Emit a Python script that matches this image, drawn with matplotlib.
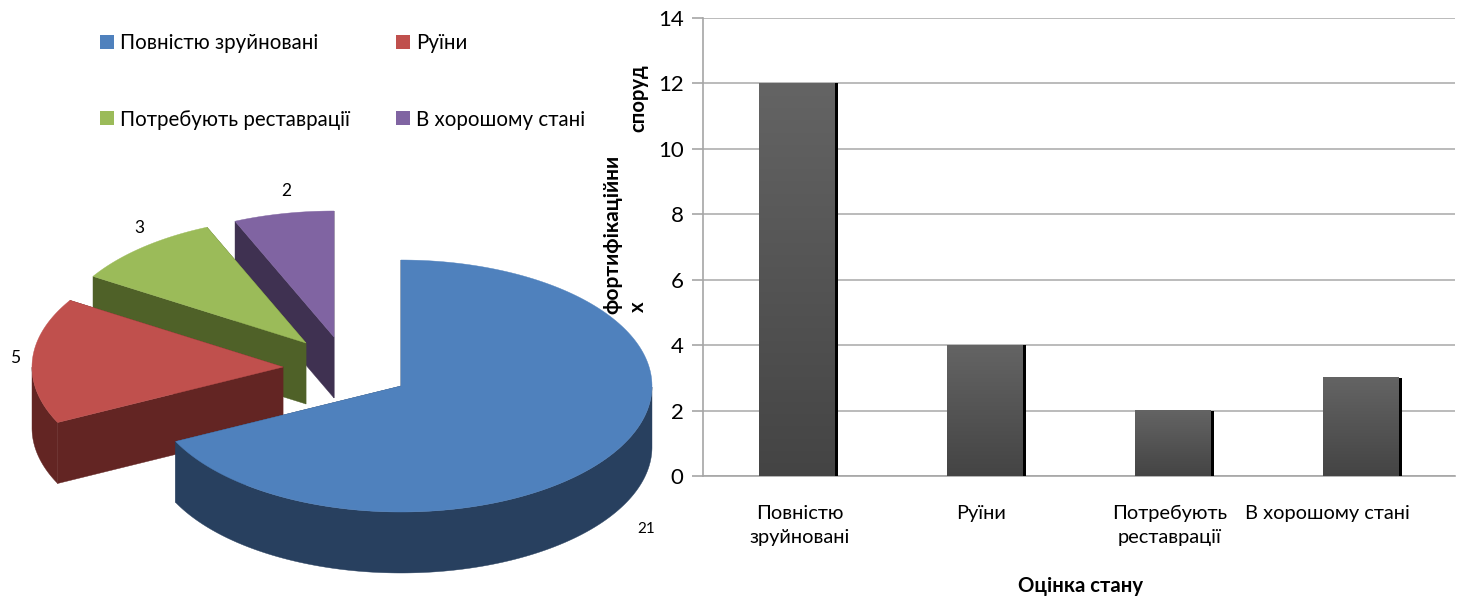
import numpy as np
import matplotlib
matplotlib.use("Agg")
import matplotlib.pyplot as plt
from matplotlib.patches import Polygon, Patch
from matplotlib.colors import LinearSegmentedColormap
from matplotlib.transforms import ScaledTranslation

plt.rcParams['font.family'] = ['Lato', 'Open Sans', 'DejaVu Sans']

# data
pie_labels = ['Повністю зруйновані', 'Руїни', 'Потребують реставрації', 'В хорошому стані']
pie_values = [21, 5, 3, 2]
bar_labels = ['Повністю\nзруйновані', 'Руїни', 'Потребують\nреставрації', 'В хорошому стані']
bar_values = [12, 4, 2, 3]
y_ticks = [0, 2, 4, 6, 8, 10, 12, 14]
x_title = 'Оцінка стану'

# style
W, H = 1463, 598
top_cols = ['#4F81BD', '#C0504D', '#9BBB59', '#8064A2']
side_cols = ['#28405F', '#632523', '#4F6128', '#3F3151']
apex = [(401, 386), (283, 367), (306, 343), (334, 337)]
RX, RY, DEPTH = 251, 126, 61
label_pos = [(646, 529), (15, 358), (139, 228), (286, 191)]
label_sizes = [11, 12.5, 12.5, 12.5]
tick_shift_px = [3, -4, -3, -34]

fig = plt.figure(figsize=(W / 100, H / 100), dpi=100)
pax = fig.add_axes([0, 0, 1, 1])
pax.set_xlim(0, W)
pax.set_ylim(H, 0)
pax.axis('off')


def ell(c, deg):
    t = np.radians(np.asarray(deg, float))
    return np.column_stack([c[0] + RX * np.cos(t), c[1] - RY * np.sin(t)])


total = sum(pie_values)
start = 90.0
draw = []
for i, v in enumerate(pie_values):
    end = start - 360.0 * v / total
    draw.append((i, start, end))
    start = end

for i, a0, a1 in reversed(draw):
    c = apex[i]
    order = 2 + (3 - i) * 2
    arc = ell(c, np.linspace(a0, a1, 200))
    # cut faces
    for a in (a0, a1):
        p = ell(c, [a])[0]
        quad = np.array([c, p, p + [0, DEPTH], np.array(c) + [0, DEPTH]])
        pax.add_patch(Polygon(quad, closed=True, fc=side_cols[i], ec=side_cols[i], lw=0.3, zorder=order))
    # outer rim, lower half of the ellipse only
    deg = np.linspace(a0, a1, 400)
    mask = np.sin(np.radians(deg)) < 0
    if mask.any():
        rim = ell(c, deg[mask])
        quad = np.vstack([rim, rim[::-1] + [0, DEPTH]])
        pax.add_patch(Polygon(quad, closed=True, fc=side_cols[i], ec=side_cols[i], lw=0.3, zorder=order))
    pax.add_patch(Polygon(np.vstack([[c], arc]), closed=True, fc=top_cols[i], ec=top_cols[i], lw=0.3, zorder=order + 1))

for v, (x, y), fs in zip(pie_values, label_pos, label_sizes):
    pax.text(x, y, str(v), ha='center', va='center', fontsize=fs, color='black', zorder=20)

handles = [Patch(fc=c, ec='none') for c in top_cols]
order_idx = [0, 2, 1, 3]
pax.legend([handles[i] for i in order_idx], [pie_labels[i] for i in order_idx],
           ncol=2, frameon=False, fontsize=14.8, loc='upper left',
           bbox_to_anchor=(100 / W, 1 - 33 / H), bbox_transform=fig.transFigure,
           handlelength=0.68, handleheight=0.68, handletextpad=0.3,
           labelspacing=2.75, columnspacing=2.25, borderpad=0, borderaxespad=0)

# bars
ax = fig.add_axes([703 / W, (H - 476) / H, 752 / W, 458 / H])
ax.patch.set_alpha(0)
x = np.arange(len(bar_values))
bw = 76 / 188
px = 1 / 188
cmap = LinearSegmentedColormap.from_list('g', ['#646464', '#444444'])
grad = np.linspace(0, 1, 256).reshape(-1, 1)
ax.bar(x + 1.5 * px, bar_values, width=bw + 3 * px, color='black', zorder=3)
for xi, v in zip(x, bar_values):
    ax.imshow(grad, cmap=cmap, aspect='auto', zorder=4, origin='upper',
              extent=(xi - bw / 2, xi + bw / 2, 0, v))
ax.set_xlim(-0.5, 3.5)
ax.set_ylim(0, 14)
ax.set_yticks(y_ticks)
ax.set_xticks(x)
ax.set_xticklabels(bar_labels, fontsize=14.4, linespacing=1.5)
ax.tick_params(axis='x', length=0, pad=21)
ax.tick_params(axis='y', length=8, width=1.2, color='#a6a6a6', labelsize=16, pad=6)
for lab, dx in zip(ax.get_xticklabels(), tick_shift_px):
    lab.set_transform(lab.get_transform() + ScaledTranslation(dx / 100, 0, fig.dpi_scale_trans))
ax.grid(axis='y', color='#b5b5b5', lw=1.3, zorder=1)
ax.set_axisbelow(True)
for s in ('top', 'right'):
    ax.spines[s].set_visible(False)
for s in ('left', 'bottom'):
    ax.spines[s].set_color('#a6a6a6')
    ax.spines[s].set_linewidth(1.2)

pax.set_zorder(5)
ax.set_zorder(1)
pax.text(1080, 586, x_title, ha='center', va='center', fontsize=14.6, fontweight='bold')
pax.text(612, 234, 'фортифікаційни', rotation=90, ha='center', va='center', fontsize=15, fontweight='bold')
pax.text(638, 98, 'споруд', rotation=90, ha='center', va='center', fontsize=14.6, fontweight='bold')
pax.text(638, 307, 'х', rotation=90, ha='center', va='center', fontsize=14.6, fontweight='bold')

fig.savefig('out.png', dpi=100)
